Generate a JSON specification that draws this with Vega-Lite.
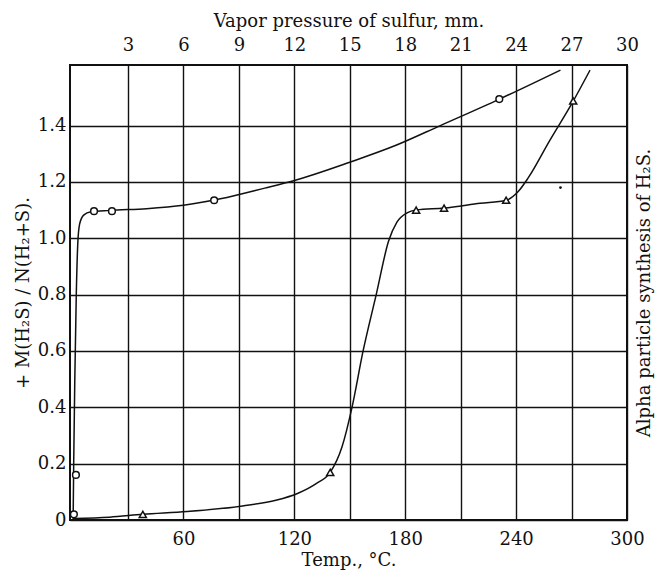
{
  "$schema": "https://vega.github.io/schema/vega-lite/v6.json",
  "width": 557,
  "height": 455,
  "autosize": {"type": "none"},
  "padding": {"left": 70, "top": 65, "right": 31, "bottom": 54},
  "background": "white",
  "config": {
    "view": {"stroke": "#111", "strokeWidth": 2},
    "font": "DejaVu Serif",
    "axis": {
      "labelFont": "DejaVu Serif",
      "titleFont": "DejaVu Serif",
      "labelFontSize": 18,
      "titleFontSize": 18,
      "labelColor": "#111",
      "titleColor": "#111",
      "titleFontWeight": "normal",
      "domain": false,
      "ticks": false,
      "gridColor": "#111",
      "gridWidth": 1.4,
      "gridOpacity": 1,
      "labelOverlap": false,
      "labelFlush": false
    }
  },
  "datasets": {
    "curveO": [
      {"T": 0.3, "y": 0.0}, {"T": 0.6, "y": 0.2}, {"T": 1.2, "y": 0.5}, {"T": 2.0, "y": 0.8},
      {"T": 2.8, "y": 0.98}, {"T": 3.8, "y": 1.05}, {"T": 6, "y": 1.082}, {"T": 10, "y": 1.094},
      {"T": 20, "y": 1.099}, {"T": 40, "y": 1.105}, {"T": 60, "y": 1.117}, {"T": 80, "y": 1.14},
      {"T": 104, "y": 1.178}, {"T": 120, "y": 1.205}, {"T": 150, "y": 1.27}, {"T": 175, "y": 1.33},
      {"T": 199, "y": 1.4}, {"T": 231, "y": 1.494}, {"T": 264, "y": 1.597}
    ],
    "curveT": [
      {"T": 0.5, "y": 0.005}, {"T": 20, "y": 0.01}, {"T": 38, "y": 0.02}, {"T": 62, "y": 0.03},
      {"T": 92, "y": 0.05}, {"T": 110, "y": 0.07}, {"T": 122, "y": 0.095}, {"T": 132, "y": 0.13},
      {"T": 139.4, "y": 0.169}, {"T": 145.8, "y": 0.26}, {"T": 151.2, "y": 0.4}, {"T": 157.2, "y": 0.6},
      {"T": 164.3, "y": 0.8}, {"T": 171, "y": 0.99}, {"T": 175.5, "y": 1.057}, {"T": 181, "y": 1.09},
      {"T": 186, "y": 1.1}, {"T": 201, "y": 1.107}, {"T": 220.6, "y": 1.124}, {"T": 234.6, "y": 1.135},
      {"T": 241, "y": 1.165}, {"T": 246.6, "y": 1.215}, {"T": 258, "y": 1.345},
      {"T": 270.9, "y": 1.487}, {"T": 280, "y": 1.597}
    ],
    "ptsO": [
      {"T": 0.7, "y": 0.02}, {"T": 1.8, "y": 0.16}, {"T": 11.6, "y": 1.096}, {"T": 21.3, "y": 1.096},
      {"T": 76.6, "y": 1.135}, {"T": 230.9, "y": 1.494}
    ],
    "ptsT": [
      {"T": 38, "y": 0.02}, {"T": 139.4, "y": 0.169}, {"T": 185.9, "y": 1.1}, {"T": 201, "y": 1.107},
      {"T": 234.6, "y": 1.135}, {"T": 270.9, "y": 1.487}
    ],
    "dot": [{"T": 264, "y": 1.18}]
  },
  "layer": [
    {
      "data": {"name": "curveO"},
      "mark": {"type": "line", "color": "#111", "strokeWidth": 1.5, "interpolate": "monotone"},
      "encoding": {
        "x": {"field": "T", "type": "quantitative",
          "scale": {"domain": [-1.4, 300], "nice": false, "zero": false},
          "axis": {"orient": "bottom", "values": [60, 120, 180, 240, 300], "grid": false,
            "title": "Temp., °C.", "labelPadding": 10, "titlePadding": 3}},
        "y": {"field": "y", "type": "quantitative",
          "scale": {"domain": [0, 1.615], "nice": false},
          "axis": {"orient": "left", "values": [0, 0.2, 0.4, 0.6, 0.8, 1.0, 1.2, 1.4], "grid": true,
            "labelExpr": "datum.value == 0 ? '0' : format(datum.value, '.1f')",
            "labelPadding": 4, "titlePadding": 5,
            "title": "+ M(H₂S) / N(H₂+S)."}}
      }
    },
    {
      "data": {"name": "curveT"},
      "mark": {"type": "line", "color": "#111", "strokeWidth": 1.5, "interpolate": "monotone"},
      "encoding": {
        "x": {"field": "T", "type": "quantitative",
          "scale": {"domain": [-1.4, 300], "nice": false, "zero": false},
          "axis": {"orient": "top", "values": [30, 60, 90, 120, 150, 180, 210, 240, 270, 300], "grid": true,
            "labelExpr": "format(datum.value / 10, 'd')",
            "title": "Vapor pressure of sulfur, mm.", "labelPadding": 11, "titlePadding": 6}},
        "y": {"field": "y", "type": "quantitative",
          "scale": {"domain": [0, 1.615], "nice": false},
          "axis": {"orient": "right", "labels": false, "grid": false,
            "title": "Alpha particle synthesis of H₂S.", "titleAngle": 270, "titleBaseline": "top",
            "titlePadding": 8}}
      }
    },
    {
      "data": {"name": "ptsO"},
      "mark": {"type": "point", "shape": "circle", "filled": false, "color": "#111", "strokeWidth": 1.5, "size": 45, "fill": "white", "fillOpacity": 1},
      "encoding": {
        "x": {"field": "T", "type": "quantitative", "axis": null},
        "y": {"field": "y", "type": "quantitative", "axis": null}
      }
    },
    {
      "data": {"name": "ptsT"},
      "mark": {"type": "point", "shape": "triangle-up", "filled": false, "color": "#111", "strokeWidth": 1.5, "size": 50, "fill": "white", "fillOpacity": 1},
      "encoding": {
        "x": {"field": "T", "type": "quantitative", "axis": null},
        "y": {"field": "y", "type": "quantitative", "axis": null}
      }
    },
    {
      "data": {"name": "dot"},
      "mark": {"type": "point", "shape": "circle", "filled": true, "color": "#111", "size": 8, "opacity": 1},
      "encoding": {
        "x": {"field": "T", "type": "quantitative", "axis": null},
        "y": {"field": "y", "type": "quantitative", "axis": null}
      }
    }
  ],
  "resolve": {"axis": {"x": "independent", "y": "independent"}}
}
